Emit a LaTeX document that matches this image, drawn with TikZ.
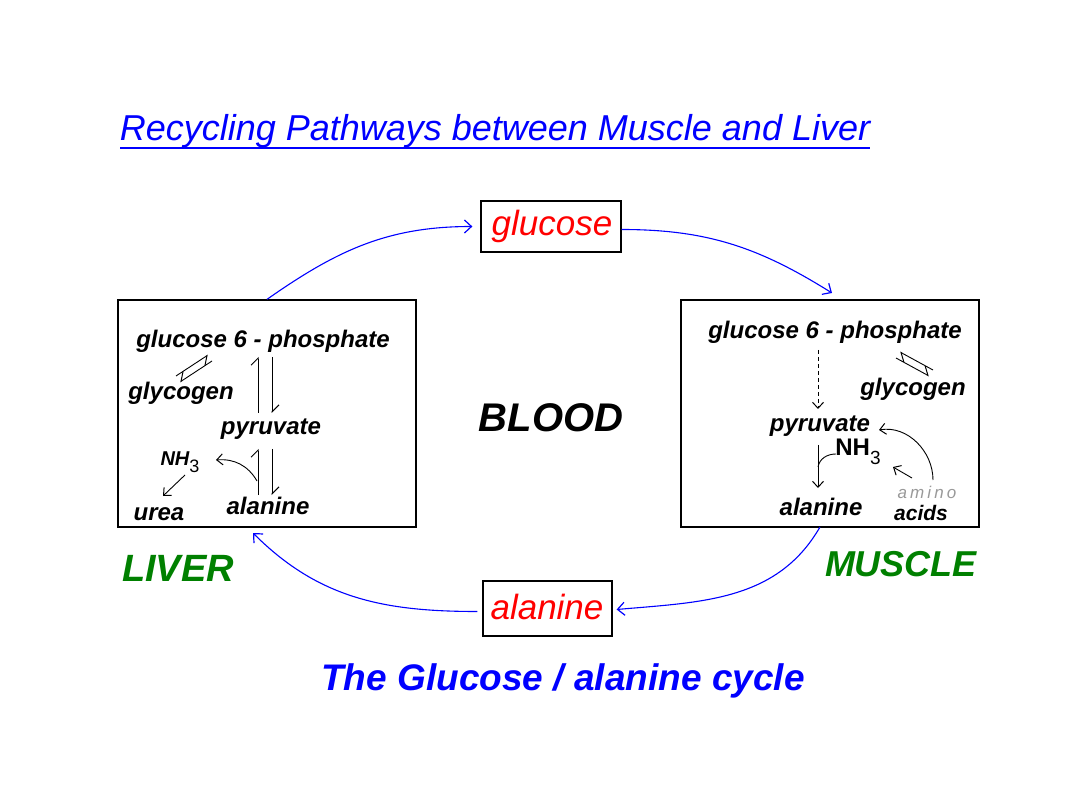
\documentclass[tikz,border=0pt]{standalone}
\usepackage{fontspec}
\setmainfont{Liberation Sans}
\usetikzlibrary{arrows.meta}
\definecolor{pblue}{RGB}{0,0,255}
\definecolor{pred}{RGB}{255,0,0}
\definecolor{pgreen}{RGB}{0,128,0}
\begin{document}
\begin{tikzpicture}[x=1pt,y=-1pt,
  bigbox/.style={draw=black, line width=1.3pt, inner sep=0},
  cyc/.style={draw=pblue, line width=1.1pt, -{Straight Barb[length=7pt,width=13pt,line width=1.2pt]}},
  lbl/.style={font=\fontsize{24}{28}\selectfont\bfseries\itshape, inner sep=0, anchor=center},
  thinl/.style={draw=black, line width=0.9pt},
  arr/.style={thinl, -{Straight Barb[length=6pt,width=11pt,line width=1pt]}},
  harp/.style={thinl, -{Straight Barb[harpoon,length=7pt,width=14pt,line width=1pt]}},
  harpi/.style={thinl, -{Straight Barb[harpoon,swap,length=7pt,width=14pt,line width=1pt]}},
  redt/.style={font=\fontsize{35}{38}\selectfont\itshape, text=pred, inner sep=0},
  greent/.style={font=\fontsize{38}{40}\selectfont\bfseries\itshape, text=pgreen, inner sep=0}
]
\useasboundingbox (0,0) rectangle (1080,810);

% title
\node[font=\fontsize{36}{40}\selectfont\itshape, text=pblue, inner sep=0] (title) at (495,131) {Recycling Pathways between Muscle and Liver};
\coordinate (ulA) at (120,148);
\coordinate (ulB) at (870,148);
\draw[pblue, line width=2pt] (ulA) -- (ulB);

% boxes
\node[bigbox, minimum width=140pt, minimum height=51pt] (gbox) at (551,226.5) {};
\node[redt] (gtxt) at (552,226) {glucose};
\node[bigbox, minimum width=129pt, minimum height=55pt] (abox) at (547.5,608.5) {};
\node[redt] (atxt) at (547,607) {alanine};
\node[bigbox, minimum width=298pt, minimum height=227pt] (liver) at (267,413.5) {};
\node[bigbox, minimum width=298pt, minimum height=227pt] (muscle) at (830,413.5) {};

\node[font=\fontsize{40}{44}\selectfont\bfseries\itshape, inner sep=0] (blood) at (551,418) {BLOOD};
\node[greent] (livert) at (178,568) {LIVER};
\node[greent, font=\fontsize{36}{40}\selectfont\bfseries\itshape] (musclet) at (901,564) {MUSCLE};
\node[font=\fontsize{37}{40}\selectfont\bfseries\itshape, text=pblue, inner sep=0] (cycle) at (563,681) {The Glucose / alanine cycle};

% cycle arrows
\coordinate (mtop) at (832,293);
\coordinate (mbot) at (820,527);
\coordinate (lbot) at (253,533);
\draw[cyc] (liver.north) to[out=35,in=180] ([xshift=-8pt]gbox.west);
\draw[cyc] ([yshift=-3pt]gbox.east) to[out=0,in=148] (mtop);
\draw[cyc] (mbot) to[out=-120,in=5] ([xshift=4pt,yshift=-1pt]abox.east);
\draw[cyc] ([xshift=-5pt,yshift=-3pt]abox.west) to[out=180,in=-45] (lbot);

% ---------- LIVER contents ----------
\node[lbl] (lg6p) at (263,341) {glucose 6 - phosphate};
\node[lbl] (lglyc) at (181,393) {glycogen};
\node[lbl] (lpyr) at (271,429) {pyruvate};
\node[lbl] (lnh3) at (180,462) {\fontsize{20}{22}\selectfont NH\raisebox{-7pt}{\normalfont\fontsize{18}{20}\selectfont 3}};
\node[lbl] (lurea) at (159,514) {urea};
\node[lbl] (lala) at (268,506) {alanine};

% diagonal harpoons
\coordinate (ld1) at (178,379);
\coordinate (ld2) at (210,358);
\draw[harpi] ([shift={(-2,-3)}]ld1) -- ([shift={(-2,-3)}]ld2);
\draw[harpi] ([shift={(2,3)}]ld2) -- ([shift={(2,3)}]ld1);
% vertical harpoons
\coordinate (lv1t) at (258,357);
\coordinate (lv1b) at (258,413);
\coordinate (lv2t) at (272,357);
\coordinate (lv2b) at (272,413);
\draw[harp] (lv1b) -- (lv1t);
\draw[harp] (lv2t) -- (lv2b);
\coordinate (lv3t) at (258,449);
\coordinate (lv3b) at (258,495);
\coordinate (lv4t) at (272,449);
\coordinate (lv4b) at (272,495);
\draw[harp] (lv3b) -- (lv3t);
\draw[harp] (lv4t) -- (lv4b);
\coordinate (lnhs) at (257,481);
\coordinate (lnhe) at (216,460);
\draw[arr] (lnhs) to[out=120,in=5] (lnhe);
\coordinate (lus) at (185,475);
\coordinate (lue) at (163,496);
\draw[arr] (lus) -- (lue);

% ---------- MUSCLE contents ----------
\node[lbl] (mg6p) at (835,332) {glucose 6 - phosphate};
\node[lbl] (mglyc) at (913,389) {glycogen};
\node[lbl] (mpyr) at (820,426) {pyruvate};
\node[font=\fontsize{24}{28}\selectfont\bfseries, inner sep=0] (mnh3) at (858,452) {NH\raisebox{-9pt}{\normalfont\fontsize{19}{20}\selectfont 3}};
\node[lbl] (mala) at (821,507) {alanine};
\node[font=\fontsize{17}{20}\selectfont\itshape\addfontfeature{LetterSpace=18}, text=black!40, inner sep=0] (mamino) at (927,492) {amino};
\node[lbl, font=\fontsize{21}{24}\selectfont\bfseries\itshape] (macids) at (921,513) {acids};

\coordinate (md1) at (818,350);
\coordinate (md2) at (818,409);
\draw[arr, dashed, dash pattern=on 4pt off 3pt] (md1) -- (md2);
\coordinate (mdd1) at (898,355);
\coordinate (mdd2) at (931,373);
\draw[harp] ([shift={(2,-3)}]mdd2) -- ([shift={(2,-3)}]mdd1);
\draw[harp] ([shift={(-2,3)}]mdd1) -- ([shift={(-2,3)}]mdd2);
\coordinate (mv1) at (818,445);
\coordinate (mv2) at (818,488);
\draw[arr] (mv1) -- (mv2);
\coordinate (mnhs) at (836,454);
\coordinate (mnhe) at (818,467);
\draw[thinl] (mnhs) to[out=180,in=80] (mnhe);
\coordinate (mas) at (933,480);
\coordinate (mae) at (879,430);
\draw[arr] (mas) to[out=90,in=10] (mae);
\coordinate (mss) at (912,478);
\coordinate (mse) at (893,467);
\draw[arr] (mss) -- (mse);
\end{tikzpicture}
\end{document}
